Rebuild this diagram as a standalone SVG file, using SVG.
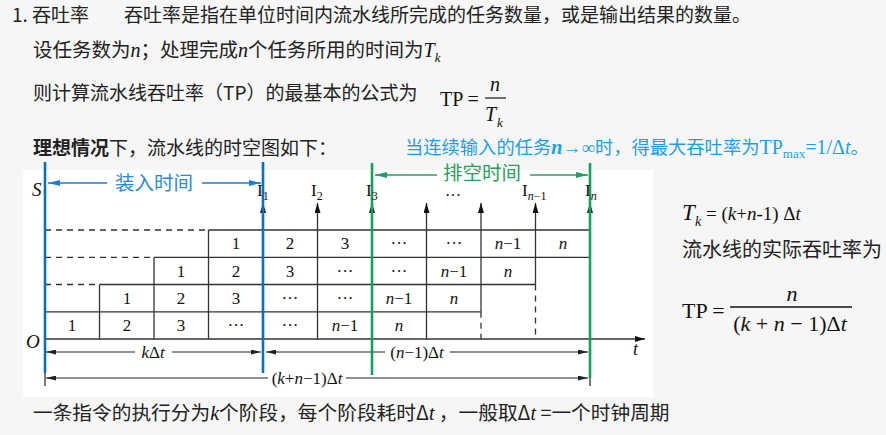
<svg xmlns="http://www.w3.org/2000/svg" width="886" height="435" viewBox="0 0 886 435">
<defs>
<style>
.cn{font-family:"Noto Sans CJK SC","Liberation Sans",sans-serif;fill:#222;}
.se{font-family:"Liberation Serif","Noto Sans CJK SC",serif;fill:#111;}
.it{font-style:italic;}
.cell{font-family:"Liberation Serif",serif;font-size:17px;fill:#111;text-anchor:middle;}
.g{stroke:#333;stroke-width:1.3;fill:none;}
.d{stroke:#333;stroke-width:1.3;fill:none;stroke-dasharray:6 5;}
.dim{stroke:#222;stroke-width:1.1;fill:none;}
.blue{stroke:#0a6fc2;stroke-width:2.6;}
.green{stroke:#16a05a;stroke-width:2.6;}
</style>
<marker id="ah" viewBox="0 0 12 6" markerWidth="12" markerHeight="5" refX="12" refY="3" orient="auto-start-reverse" markerUnits="userSpaceOnUse"><path d="M0,0 L12,3 L0,6 z" fill="#222"/></marker>
<marker id="av" viewBox="0 0 10 6" markerWidth="10" markerHeight="6" refX="10" refY="3" orient="auto" markerUnits="userSpaceOnUse"><path d="M0,0 L10,3 L0,6 z" fill="#111"/></marker>
<marker id="ab" viewBox="0 0 12 6" markerWidth="12" markerHeight="6" refX="12" refY="3" orient="auto-start-reverse" markerUnits="userSpaceOnUse"><path d="M0,0 L12,3 L0,6 z" fill="#1a7fd0"/></marker>
<marker id="ag" viewBox="0 0 12 6" markerWidth="12" markerHeight="6" refX="12" refY="3" orient="auto-start-reverse" markerUnits="userSpaceOnUse"><path d="M0,0 L12,3 L0,6 z" fill="#1fa060"/></marker>
</defs>
<rect width="886" height="435" fill="#f6f6f6"/>
<rect x="23" y="170" width="630" height="227" fill="#ffffff"/>

<g id="header">
<text x="12" y="22" class="cn" font-size="19">1. 吞吐率</text>
<text x="124" y="22" class="cn" font-size="19">吞吐率是指在单位时间内流水线所完成的任务数量，或是输出结果的数量。</text>
<text x="33" y="57" class="cn" font-size="19.5">设任务数为<tspan class="se it" font-size="20">n</tspan>；处理完成<tspan class="se it" font-size="20">n</tspan>个任务所用的时间为<tspan class="se it" font-size="20">T</tspan><tspan class="se it" font-size="13" dy="5">k</tspan></text>
<text x="33" y="100" class="cn" font-size="19">则计算流水线吞吐率（TP）的最基本的公式为</text>
<text x="440" y="106" class="se" font-size="20">TP =</text>
<text x="495" y="91" class="se it" font-size="20" text-anchor="middle">n</text>
<line x1="485" y1="98" x2="506" y2="98" stroke="#111" stroke-width="1.2"/>
<text x="485" y="121" class="se it" font-size="20">T</text>
<text x="497" y="127" class="se it" font-size="13">k</text>
<text x="33" y="155" class="cn" font-size="19"><tspan font-weight="bold">理想情况</tspan>下，流水线的时空图如下：</text>
<text x="405" y="154" font-family="Noto Sans CJK SC,sans-serif" font-size="18.3" fill="#1e9ee6">当连续输入的任务<tspan font-family="Liberation Serif,serif" font-style="italic" font-weight="bold" font-size="20">n</tspan><tspan font-family="Liberation Serif,serif" font-size="19">→∞</tspan>时，得最大吞吐率为<tspan font-family="Liberation Serif,serif" font-size="20">TP</tspan><tspan font-family="Liberation Serif,serif" font-size="13" dy="4">max</tspan><tspan font-family="Liberation Serif,serif" font-size="20" dy="-4">=1/Δ</tspan><tspan font-family="Liberation Serif,serif" font-style="italic" font-size="20">t</tspan>。</text>
</g>

<g id="grid">
<line class="d" x1="45" y1="230" x2="208.5" y2="230"/>
<line class="d" x1="45" y1="257.3" x2="154" y2="257.3"/>
<line class="d" x1="45" y1="284.5" x2="99.5" y2="284.5"/>
<line class="g" x1="208.5" y1="230" x2="590" y2="230"/>
<line class="g" x1="154" y1="257.3" x2="590" y2="257.3"/>
<line class="g" x1="99.5" y1="284.5" x2="535.5" y2="284.5"/>
<line class="g" x1="45" y1="311.8" x2="481" y2="311.8"/>
<line class="g" x1="99.5" y1="284.5" x2="99.5" y2="339"/>
<line class="g" x1="154" y1="257.3" x2="154" y2="339"/>
<line class="g" x1="208.5" y1="230" x2="208.5" y2="339"/>
<line class="d" x1="481" y1="311.8" x2="481" y2="339"/>
<line class="d" x1="535.5" y1="284.5" x2="535.5" y2="339"/>
<line class="d" x1="590" y1="257.3" x2="590" y2="339"/>
</g>

<g id="cells">
<text class="cell" x="236" y="249">1</text>
<text class="cell" x="290" y="249">2</text>
<text class="cell" x="345" y="249">3</text>
<text class="cell" x="399" y="249">···</text>
<text class="cell" x="454" y="249">···</text>
<text class="cell" x="508" y="249"><tspan font-style="italic">n</tspan>−1</text>
<text class="cell" x="563" y="249" font-style="italic">n</text>

<text class="cell" x="181" y="277">1</text>
<text class="cell" x="236" y="277">2</text>
<text class="cell" x="290" y="277">3</text>
<text class="cell" x="345" y="277">···</text>
<text class="cell" x="399" y="277">···</text>
<text class="cell" x="454" y="277"><tspan font-style="italic">n</tspan>−1</text>
<text class="cell" x="508" y="277" font-style="italic">n</text>

<text class="cell" x="127" y="304">1</text>
<text class="cell" x="181" y="304">2</text>
<text class="cell" x="236" y="304">3</text>
<text class="cell" x="290" y="304">···</text>
<text class="cell" x="345" y="304">···</text>
<text class="cell" x="399" y="304"><tspan font-style="italic">n</tspan>−1</text>
<text class="cell" x="454" y="304" font-style="italic">n</text>

<text class="cell" x="72" y="331">1</text>
<text class="cell" x="127" y="331">2</text>
<text class="cell" x="181" y="331">3</text>
<text class="cell" x="236" y="331">···</text>
<text class="cell" x="290" y="331">···</text>
<text class="cell" x="345" y="331"><tspan font-style="italic">n</tspan>−1</text>
<text class="cell" x="399" y="331" font-style="italic">n</text>
</g>

<g id="connectors">
<line class="g" x1="263" y1="339" x2="263" y2="203" marker-end="url(#av)"/>
<line class="g" x1="317.5" y1="339" x2="317.5" y2="203" marker-end="url(#av)"/>
<line class="g" x1="372" y1="339" x2="372" y2="203" marker-end="url(#av)"/>
<line class="g" x1="426.5" y1="339" x2="426.5" y2="203" marker-end="url(#av)"/>
<line class="g" x1="481" y1="311.8" x2="481" y2="203" marker-end="url(#av)"/>
<line class="g" x1="535.5" y1="284.5" x2="535.5" y2="203" marker-end="url(#av)"/>
<line class="g" x1="590" y1="257.3" x2="590" y2="203" marker-end="url(#av)"/>
<line class="g" x1="45" y1="170" x2="45" y2="386"/>
<line class="g" x1="590" y1="339" x2="590" y2="386"/>
<line class="g" x1="45" y1="339" x2="645" y2="339" marker-end="url(#av)"/>
<line class="dim" x1="135" y1="352" x2="46" y2="352" marker-end="url(#ah)"/>
<line class="dim" x1="172" y1="352" x2="261" y2="352" marker-end="url(#ah)"/>
<line class="dim" x1="385" y1="352" x2="266" y2="352" marker-end="url(#ah)"/>
<line class="dim" x1="450" y1="352" x2="588" y2="352" marker-end="url(#ah)"/>
<line class="dim" x1="268" y1="378" x2="46" y2="378" marker-end="url(#ah)"/>
<line class="dim" x1="346" y1="378" x2="588" y2="378" marker-end="url(#ah)"/>
<line class="blue" x1="45" y1="162" x2="45" y2="373"/>
<line class="blue" x1="263" y1="162" x2="263" y2="373"/>
<line class="green" x1="372" y1="163" x2="372" y2="375"/>
<line class="green" x1="590" y1="163" x2="590" y2="378"/>
<line x1="107" y1="183" x2="48" y2="183" stroke="#1a7fd0" stroke-width="1.4" marker-end="url(#ab)"/>
<line x1="202" y1="183" x2="261" y2="183" stroke="#1a7fd0" stroke-width="1.4" marker-end="url(#ab)"/>
<line x1="437" y1="175" x2="375" y2="175" stroke="#1fa060" stroke-width="1.4" marker-end="url(#ag)"/>
<line x1="530" y1="175" x2="588" y2="175" stroke="#1fa060" stroke-width="1.4" marker-end="url(#ag)"/>
</g>

<g id="labels">
<text x="115" y="190" font-family="Noto Sans CJK SC,sans-serif" font-size="19.5" fill="#2b8ad6">装入时间</text>
<text x="443" y="180" font-family="Noto Sans CJK SC,sans-serif" font-size="19.5" fill="#2aa060">排空时间</text>
<text x="32" y="196" class="se it" font-size="19">S</text>
<text x="26" y="348" class="se it" font-size="19">O</text>
<text x="633" y="355" class="se it" font-size="18">t</text>
<text x="257" y="196" class="se" font-size="17">I<tspan font-size="12" dy="4">1</tspan></text>
<text x="311" y="196" class="se" font-size="17">I<tspan font-size="12" dy="4">2</tspan></text>
<text x="366" y="196" class="se" font-size="17">I<tspan font-size="12" dy="4">3</tspan></text>
<text x="453" y="201" class="se" font-size="16" text-anchor="middle">···</text>
<text x="522" y="196" class="se" font-size="17">I<tspan font-size="12" dy="4" font-style="italic">n</tspan><tspan font-size="12">−1</tspan></text>
<text x="585" y="196" class="se" font-size="17">I<tspan font-size="12" dy="4" font-style="italic">n</tspan></text>
<text x="153" y="358" class="se" font-size="17" text-anchor="middle"><tspan font-style="italic">k</tspan>Δ<tspan font-style="italic">t</tspan></text>
<text x="417" y="358" class="se" font-size="17" text-anchor="middle">(<tspan font-style="italic">n</tspan>−1)Δ<tspan font-style="italic">t</tspan></text>
<text x="307" y="384" class="se" font-size="17" text-anchor="middle">(<tspan font-style="italic">k</tspan>+<tspan font-style="italic">n</tspan>−1)Δ<tspan font-style="italic">t</tspan></text>
</g>

<g id="formulas">
<text x="682" y="220" class="se it" font-size="23">T</text>
<text x="695" y="226" class="se it" font-size="14">k</text>
<text x="706" y="220" class="se" font-size="19">= (<tspan font-style="italic">k</tspan>+<tspan font-style="italic">n</tspan>-1) Δ<tspan font-style="italic">t</tspan></text>
<text x="682" y="257" class="cn" font-size="20">流水线的实际吞吐率为</text>
<text x="682" y="318" class="se" font-size="22">TP =</text>
<text x="792" y="301" class="se it" font-size="22" text-anchor="middle">n</text>
<line x1="730" y1="307" x2="852" y2="307" stroke="#111" stroke-width="1.3"/>
<text x="790" y="331" class="se" font-size="22" text-anchor="middle">(<tspan font-style="italic">k</tspan> + <tspan font-style="italic">n</tspan> − 1)Δ<tspan font-style="italic">t</tspan></text>
</g>

<g id="footer">
<text x="33" y="420" class="cn" font-size="19.7">一条指令的执行分为<tspan class="se it" font-size="20">k</tspan>个阶段，每个阶段耗时Δ<tspan class="se it" font-size="20">t</tspan> ，一般取Δ<tspan class="se it" font-size="20">t</tspan> =一个时钟周期</text>
</g>
</svg>
